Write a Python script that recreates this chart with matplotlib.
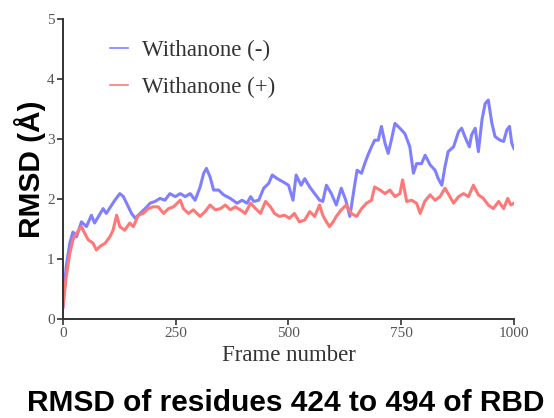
import matplotlib.pyplot as plt

# Withanone (-) : frame / RMSD
frames_minus = [0, 7, 15, 22, 30, 41, 52, 63, 70, 78, 89, 96, 108, 115, 126, 134, 141, 152, 160,
                171, 182, 193, 204, 215, 226, 237, 249, 260, 271, 282, 293, 304, 312, 318, 326,
                334, 345, 356, 371, 386, 397, 408, 416, 423, 434, 445, 456, 464, 475, 487, 500,
                510, 517, 528, 536, 547, 558, 569, 576, 584, 595, 606, 617, 627, 636, 645, 652,
                662, 669, 676, 684, 691, 699, 706, 714, 721, 728, 736, 747, 758, 769, 777, 784,
                795, 803, 814, 825, 832, 840, 847, 854, 866, 877, 884, 891, 901, 906, 914, 921,
                929, 936, 943, 951, 958, 969, 977, 984, 990, 995, 1000]
rmsd_minus = [0.2, 0.87, 1.26, 1.45, 1.37, 1.62, 1.54, 1.73, 1.6, 1.7, 1.84, 1.76, 1.9, 1.98, 2.09,
              2.04, 1.93, 1.76, 1.68, 1.76, 1.84, 1.93, 1.96, 2.01, 1.98, 2.09, 2.04, 2.09, 2.04,
              2.09, 1.98, 2.2, 2.43, 2.51, 2.37, 2.15, 2.15, 2.07, 2.01, 1.93, 1.98, 1.93, 2.04,
              1.96, 1.98, 2.18, 2.26, 2.4, 2.34, 2.29, 2.23, 1.98, 2.4, 2.23, 2.34, 2.2, 2.09,
              1.98, 1.96, 2.23, 2.09, 1.9, 2.18, 1.98, 1.71, 2.15, 2.48, 2.43, 2.59, 2.73, 2.87,
              2.98, 2.98, 3.21, 2.93, 2.76, 2.98, 3.26, 3.18, 3.09, 2.87, 2.43, 2.59, 2.59, 2.73,
              2.57, 2.48, 2.34, 2.23, 2.54, 2.79, 2.87, 3.12, 3.18, 3.04, 2.87, 3.07, 3.18, 2.79,
              3.32, 3.59, 3.65, 3.26, 3.04, 2.98, 2.96, 3.15, 3.21, 2.93, 2.84]

# Withanone (+)
frames_plus = [0, 7, 15, 22, 30, 41, 48, 56, 67, 74, 82, 93, 104, 111, 119, 126, 137, 148, 156,
               167, 178, 189, 200, 211, 223, 234, 245, 260, 267, 278, 289, 304, 315, 326, 338,
               349, 360, 371, 382, 393, 404, 416, 427, 438, 449, 460, 469, 480, 491, 502, 513,
               524, 536, 547, 558, 569, 576, 584, 591, 599, 606, 617, 628, 639, 651, 662, 673,
               684, 691, 703, 714, 725, 736, 747, 753, 762, 773, 784, 792, 802, 814, 825, 836,
               847, 858, 866, 877, 888, 899, 910, 921, 932, 943, 954, 966, 977, 986, 993, 1000]
rmsd_plus = [0.2, 0.7, 1.09, 1.32, 1.43, 1.54, 1.43, 1.32, 1.26, 1.15, 1.21, 1.26, 1.37, 1.48,
             1.73, 1.54, 1.48, 1.6, 1.54, 1.73, 1.76, 1.84, 1.87, 1.87, 1.76, 1.84, 1.87, 1.98,
             1.84, 1.76, 1.82, 1.71, 1.79, 1.9, 1.82, 1.84, 1.9, 1.82, 1.87, 1.82, 1.76, 1.93,
             1.84, 1.76, 1.96, 1.87, 1.76, 1.71, 1.73, 1.68, 1.76, 1.62, 1.65, 1.79, 1.71, 1.9,
             1.73, 1.62, 1.54, 1.62, 1.71, 1.82, 1.9, 1.76, 1.71, 1.84, 1.93, 1.98, 2.2, 2.15,
             2.09, 2.15, 2.04, 2.09, 2.32, 1.96, 1.98, 1.93, 1.76, 1.96, 2.07, 1.98, 2.04, 2.18,
             2.04, 1.93, 2.04, 2.09, 2.04, 2.23, 2.07, 2.01, 1.9, 1.84, 1.96, 1.84, 2.01, 1.9, 1.93]

x_ticks = [0, 250, 500, 750, 1000]
y_ticks = [0, 1, 2, 3, 4, 5]

serif = ["Liberation Serif", "DejaVu Serif"]
sans = ["Liberation Sans", "DejaVu Sans"]

fig = plt.figure(figsize=(5.54, 4.18), dpi=100)
ax = fig.add_axes([0.1137, 0.2368, 0.8141, 0.7177])

ax.plot(frames_minus, rmsd_minus, color="#8080ff", lw=2.2, label="Withanone (-)")
ax.plot(frames_plus, rmsd_plus, color="#ff7878", lw=2.2, label="Withanone (+)")

ax.set_xlim(0, 1000)
ax.set_ylim(0, 5)
ax.set_xticks(x_ticks)
ax.set_yticks(y_ticks)
for s in ["top", "right"]:
    ax.spines[s].set_visible(False)
for s in ["left", "bottom"]:
    ax.spines[s].set_linewidth(1.4)
    ax.spines[s].set_color("#333333")
ax.tick_params(direction="out", length=4, width=1.2, color="#333333",
               labelsize=11, labelcolor="#555555", pad=2)
for lab in ax.get_xticklabels() + ax.get_yticklabels():
    lab.set_family(serif)

ax.set_xlabel("Frame number", fontsize=16.5, family=serif, color="#333333", labelpad=3)
ax.set_ylabel("RMSD (Å)", fontsize=21.5, family=sans, fontweight="bold", labelpad=1)

leg = ax.legend(loc="upper left", bbox_to_anchor=(0.104, 0.93), frameon=False,
                borderpad=0, borderaxespad=0, handlelength=0.8, handletextpad=0.6,
                labelspacing=0.68, prop={"family": serif, "size": 16.5})
for t in leg.get_texts():
    t.set_color("#333333")
for h in leg.get_lines():
    h.set_linewidth(1.2)

fig.text(0.515, 0.036, "RMSD of residues 424 to 494 of RBD", ha="center", va="center",
         fontsize=21.5, family=sans, fontweight="bold")

plt.savefig("out.png", dpi=100)
